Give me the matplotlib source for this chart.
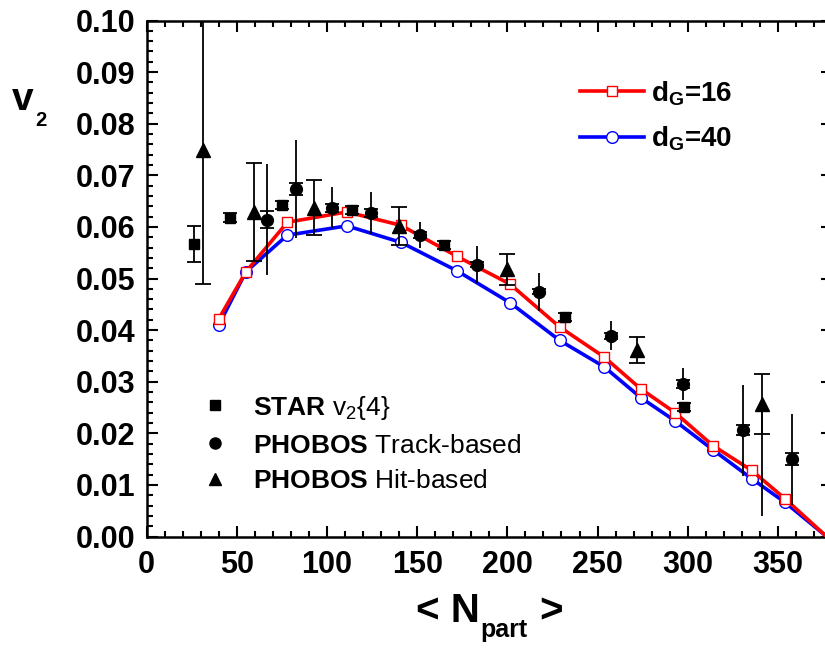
import matplotlib
matplotlib.use("Agg")
import matplotlib.pyplot as plt
from matplotlib.lines import Line2D
from matplotlib.ticker import MultipleLocator, FormatStrFormatter

plt.rcParams['font.family'] = ['Liberation Sans', 'DejaVu Sans']
plt.rcParams['mathtext.fontset'] = 'custom'
plt.rcParams['mathtext.rm'] = 'Liberation Sans'
plt.rcParams['mathtext.it'] = 'Liberation Sans:italic'
plt.rcParams['mathtext.bf'] = 'Liberation Sans:bold'

# model curves, d_G = 16 and d_G = 40
npart_model = [40, 55, 78, 111, 141, 172, 201.5, 229, 253.6, 274, 293, 314, 335.5, 354, 377]
v2_dg16 = [0.0422, 0.0513, 0.0609, 0.0629, 0.0603, 0.0543, 0.0489, 0.0406, 0.0348,
           0.0286, 0.0240, 0.0176, 0.0128, 0.0073, 0.0]
v2_dg40 = [0.0410, 0.0513, 0.0584, 0.0602, 0.0570, 0.0515, 0.0453, 0.0380, 0.0329,
           0.0269, 0.0224, 0.0168, 0.0112, 0.0066, 0.0]

# STAR v2{4}
star_n = [26, 46, 75, 114, 165, 232, 298]
star_v2 = [0.0567, 0.0618, 0.0643, 0.0633, 0.0565, 0.0426, 0.0251]
star_err = [0.0035, 0.0008, 0.0008, 0.0008, 0.0008, 0.0008, 0.0008]

# PHOBOS track-based
trk_n = [66.8, 82.9, 102.8, 124.6, 151.3, 183, 217.4, 257.3, 297.5, 330.4, 358]
trk_v2 = [0.0614, 0.0673, 0.0637, 0.0627, 0.0585, 0.0527, 0.0474, 0.0389, 0.0295, 0.0206, 0.0150]
trk_stat = [0.0016, 0.0012, 0.0008, 0.0007, 0.0006, 0.0005, 0.0005, 0.0006, 0.0008, 0.0010, 0.0012]
trk_sys = [0.0108, 0.0095, 0.0040, 0.0040, 0.0025, 0.0036, 0.0037, 0.0028, 0.0031, 0.0088, 0.0088]

# PHOBOS hit-based
hit_n = [31.4, 59.4, 93, 139.7, 199.7, 272, 341.3]
hit_v2 = [0.0749, 0.0629, 0.0637, 0.0602, 0.0518, 0.0361, 0.0257]
hit_err = [0.0260, 0.0095, 0.0053, 0.0037, 0.0030, 0.0025, 0.0058]
hit_sys_lo = [0, 0, 0, 0, 0, 0, 0.0218]

W, H = 825, 649
fig = plt.figure(figsize=(W / 100, H / 100), dpi=100)
ax = fig.add_axes([146.7 / W, 1 - 536.5 / H, 685.3 / W, 516 / H])

ax.plot(npart_model, v2_dg40, color='#0000ff', lw=2.6, marker='o', ms=8.4, mfc='white',
        mec='#0000ff', mew=1.0, markevery=slice(0, -1), zorder=3)
ax.plot(npart_model, v2_dg16, color='#ff0000', lw=2.6, marker='s', ms=7.4, mfc='white',
        mec='#ff0000', mew=1.0, markevery=slice(0, -1), zorder=3)

ax.errorbar(star_n, star_v2, yerr=star_err, fmt='s', color='black', ms=7.5,
            capsize=5, elinewidth=1.3, capthick=1.3, zorder=4)
ax.errorbar(trk_n, trk_v2, yerr=trk_sys, fmt='none', ecolor='black', elinewidth=1.3, zorder=4)
ax.errorbar(trk_n, trk_v2, yerr=trk_stat, fmt='o', color='black', ms=8.5,
            capsize=5, elinewidth=1.3, capthick=1.3, zorder=4)
ax.errorbar(hit_n, hit_v2, yerr=[hit_sys_lo, [0] * len(hit_n)], fmt='none', ecolor='black',
            elinewidth=1.3, zorder=4)
ax.errorbar(hit_n, hit_v2, yerr=hit_err, fmt='^', color='black', ms=10,
            capsize=6, elinewidth=1.3, capthick=1.3, zorder=4)

ax.set_xlim(0, 380)
ax.set_ylim(0, 0.1)
ax.xaxis.set_major_locator(MultipleLocator(50))
ax.xaxis.set_minor_locator(MultipleLocator(10))
ax.yaxis.set_major_locator(MultipleLocator(0.01))
ax.yaxis.set_minor_locator(MultipleLocator(0.002))
ax.yaxis.set_major_formatter(FormatStrFormatter('%.2f'))
ax.tick_params(which='both', direction='in', top=True, right=True, width=1.5)
ax.tick_params(which='major', length=8, labelsize=22, pad=8)
ax.tick_params(axis='x', which='major', pad=10)
ax.tick_params(which='minor', length=4)
for lab in ax.get_xticklabels() + ax.get_yticklabels():
    lab.set_fontweight('bold')
for sp in ax.spines.values():
    sp.set_linewidth(1.8)

# axis titles with dropped subscripts
fig.text(480 / W, 1 - 622 / H, '< N', fontsize=29, fontweight='bold', ha='right', va='baseline')
fig.text(480 / W, 1 - 637 / H, 'part', fontsize=18, fontweight='bold', ha='left', va='baseline')
fig.text(539 / W, 1 - 622 / H, '>', fontsize=29, fontweight='bold', ha='left', va='baseline')
fig.text(12 / W, 1 - 110 / H, 'v', fontsize=28, fontweight='bold', ha='left', va='baseline')
fig.text(35 / W, 1 - 126 / H, '2', fontsize=14.5, fontweight='bold', ha='left', va='baseline')

model_handles = [
    Line2D([], [], color='#ff0000', lw=2.6, marker='s', ms=7.4, mfc='white', mec='#ff0000', mew=1.0),
    Line2D([], [], color='#0000ff', lw=2.6, marker='o', ms=8.4, mfc='white', mec='#0000ff', mew=1.0),
]
leg1 = ax.legend(model_handles, [r'$\mathbf{d_G}$=16', r'$\mathbf{d_G}$=40'],
                 loc='upper left', bbox_to_anchor=(0.632, 0.8866), frameon=False,
                 prop={'size': 20, 'weight': 'bold'}, handlelength=2.3,
                 handletextpad=0.25, labelspacing=0.61, borderpad=0, borderaxespad=0)
ax.add_artist(leg1)

data_handles = [
    Line2D([], [], ls='none', marker='s', color='black', ms=7.5),
    Line2D([], [], ls='none', marker='o', color='black', ms=8),
    Line2D([], [], ls='none', marker='^', color='black', ms=8.5),
]
ax.legend(data_handles, [r'$\mathbf{STAR}$ v$_2${4}', r'$\mathbf{PHOBOS}$ Track-based',
                         r'$\mathbf{PHOBOS}$ Hit-based'],
          loc='upper left', bbox_to_anchor=(0.0804, 0.2767), frameon=False,
          fontsize=19, handlelength=1.0, handletextpad=0.94, labelspacing=0.45,
          borderpad=0, borderaxespad=0)

fig.savefig('out.png', dpi=100)
